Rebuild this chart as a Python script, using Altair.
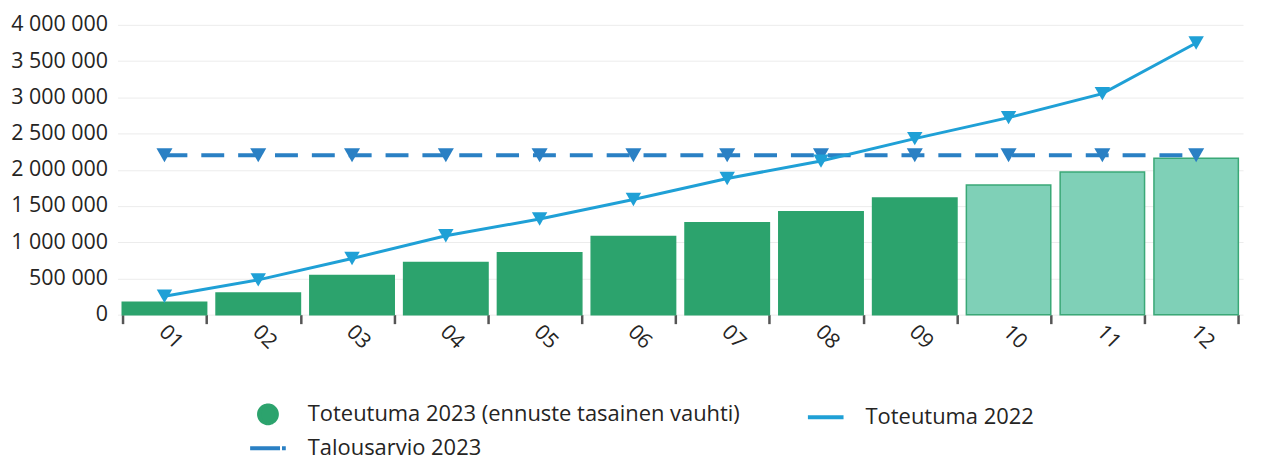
import altair as alt
import pandas as pd

months = ["01", "02", "03", "04", "05", "06", "07", "08", "09", "10", "11", "12"]
toteutuma_2023 = [170000, 300000, 540000, 720000, 855000, 1080000, 1270000, 1420000, 1610000, 1790000, 1970000, 2160000]
ennuste = [False, False, False, False, False, False, False, False, False, True, True, True]
toteutuma_2022 = [255000, 480000, 775000, 1090000, 1320000, 1590000, 1880000, 2120000, 2430000, 2720000, 3050000, 3750000]
talousarvio_2023 = [2200000, 2200000, 2200000, 2200000, 2200000, 2200000, 2200000, 2200000, 2200000, 2200000, 2200000, 2200000]
y_ticks = [0, 500000, 1000000, 1500000, 2000000, 2500000, 3000000, 3500000, 4000000]
series_names = ["Toteutuma 2023 (ennuste tasainen vauhti)", "Talousarvio 2023", "Toteutuma 2022"]

GREEN = "#2ca36d"
GREEN_LIGHT = "#7fd0b7"
GREEN_EDGE = "#3aa877"
CYAN = "#1fa0d6"
BLUE = "#2a80c4"
TEXT = "#252423"
FONT = "Open Sans"

df = pd.DataFrame({
    "kk": months,
    "t2023": toteutuma_2023,
    "ennuste": ennuste,
    "t2022": toteutuma_2022,
    "ta2023": talousarvio_2023,
})
legend_df = pd.DataFrame({"kk": months[:3], "sarja": series_names, "v": [0, 0, 0]})

x_axis = alt.Axis(
    labelAngle=45, labelFontSize=21, labelFont=FONT, labelColor=TEXT,
    labelPadding=-3, labelOffset=5, domain=False, grid=False, tickBand="extent",
    tickSize=9, tickWidth=2.5, tickColor="#555555",
)
x_scale = alt.Scale(paddingInner=0.1, paddingOuter=0.05)
y_scale = alt.Scale(domain=[0, 4000000], nice=False)
y_axis = alt.Axis(
    values=y_ticks, tickCount=9, domain=False, ticks=False, grid=True, gridColor="#ececec",
    labelFontSize=21.5, labelFont=FONT, labelColor=TEXT, labelPadding=10,
    labelOverlap=False, labelBound=False,
    labelExpr="replace(replace(format(datum.value, ','), ',', ' '), ',', ' ')",
)


def xy(field):
    return dict(
        x=alt.X("kk:N", title=None, scale=x_scale, axis=x_axis),
        y=alt.Y(field, title=None, scale=y_scale, axis=y_axis),
    )


bars = alt.Chart(df).mark_bar(strokeWidth=1.5).encode(
    **xy("t2023:Q"),
    fill=alt.condition("datum.ennuste", alt.value(GREEN_LIGHT), alt.value(GREEN)),
    stroke=alt.condition("datum.ennuste", alt.value(GREEN_EDGE), alt.value(GREEN)),
)
ta_line = alt.Chart(df).mark_line(color=BLUE, strokeWidth=4, strokeDash=[23, 14]).encode(**xy("ta2023:Q"))
ta_pts = alt.Chart(df).mark_point(shape="triangle-down", filled=True, size=260, color=BLUE, opacity=1).encode(**xy("ta2023:Q"))
t22_line = alt.Chart(df).mark_line(color=CYAN, strokeWidth=3).encode(**xy("t2022:Q"))
t22_pts = alt.Chart(df).mark_point(shape="triangle-down", filled=True, size=240, color=CYAN, opacity=1).encode(**xy("t2022:Q"))

leg = alt.Legend(
    title=None, orient="none", legendX=140, legendY=380, columns=2,
    columnPadding=60, rowPadding=6, symbolSize=320, symbolStrokeWidth=4,
    symbolOpacity=1, labelFontSize=22, labelFont=FONT, labelColor=TEXT,
    labelLimit=700, labelOffset=29, padding=0,
)
line_path = "M-2,0L2,0"
legend_layer = alt.Chart(legend_df).mark_point(filled=True).encode(
    **xy("v:Q"),
    fill=alt.Fill("sarja:N", scale=alt.Scale(domain=series_names, range=[GREEN, BLUE, CYAN]), legend=leg),
    stroke=alt.Stroke("sarja:N", scale=alt.Scale(domain=series_names, range=[GREEN, BLUE, CYAN]), legend=leg),
    shape=alt.Shape("sarja:N", scale=alt.Scale(domain=series_names, range=["circle", line_path, line_path]), legend=leg),
    strokeDash=alt.StrokeDash("sarja:N", scale=alt.Scale(domain=series_names, range=[[1, 0], [30, 2], [1, 0]]), legend=leg),
    opacity=alt.value(0),
)

chart = alt.layer(bars, ta_line, ta_pts, t22_line, t22_pts, legend_layer).properties(
    width=1130,
    height=291,
    autosize=alt.AutoSizeParams(type="none"),
    padding={"left": 110, "top": 16, "right": 10, "bottom": 148},
).configure_view(stroke=None)

chart.save("out.html", embed_options={"renderer": "svg", "actions": False})
